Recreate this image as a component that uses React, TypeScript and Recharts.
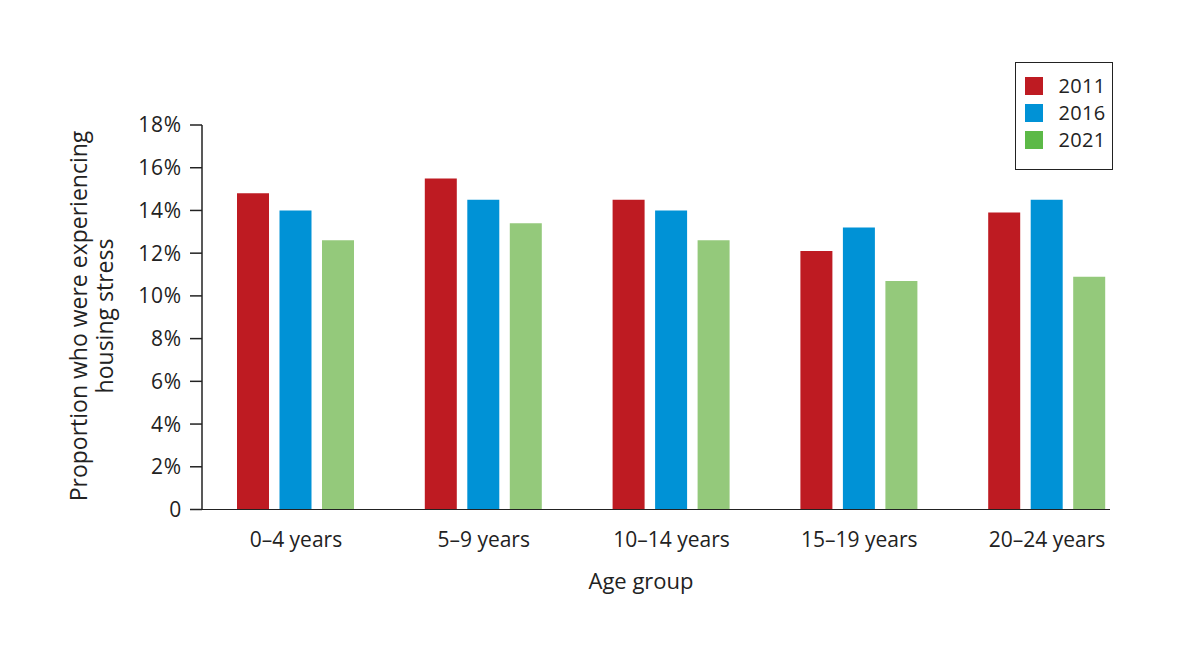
import { BarChart, Bar, XAxis, YAxis } from 'recharts';

// Housing stress by age group, census years 2011 / 2016 / 2021
const ageGroups = ['0–4 years', '5–9 years', '10–14 years', '15–19 years', '20–24 years'];
const values2011 = [14.8, 15.5, 14.5, 12.1, 13.9];
const values2016 = [14.0, 14.5, 14.0, 13.2, 14.5];
const values2021 = [12.6, 13.4, 12.6, 10.7, 10.9];
const yTicks = [0, 2, 4, 6, 8, 10, 12, 14, 16, 18];
const years = ['2011', '2016', '2021'];

const barColors = ['#be1b22', '#0092d6', '#94c97b'];
const legendColors = ['#be1b22', '#0092d6', '#5cb947'];
const ink = '#222';
const font = '"Open Sans", sans-serif';

const data = ageGroups.map((group, i) => ({
  group,
  y2011: values2011[i],
  y2016: values2016[i],
  y2021: values2021[i],
}));

// legend drawn as plain html so it doesn't eat into the plot area
const LegendBox = () => (
  <div
    style={{
      position: 'absolute',
      top: 62,
      left: 1015,
      width: 98,
      height: 108,
      boxSizing: 'border-box',
      border: `1.5px solid ${ink}`,
      padding: '9.5px 0 0 8.5px',
      background: '#fff',
      fontFamily: font,
    }}
  >
    {years.map((y, i) => (
      <div key={y} style={{ display: 'flex', alignItems: 'center', height: 27 }}>
        <span style={{ width: 18, height: 18, background: legendColors[i], marginRight: 16 }} />
        <span style={{ fontSize: 20, color: ink, lineHeight: '20px', letterSpacing: 0.3 }}>{y}</span>
      </div>
    ))}
  </div>
);

const YTitle = () => (
  <text
    transform="translate(93, 316) rotate(-90)"
    textAnchor="middle"
    fontFamily={font}
    fontSize={23}
    fill={ink}
  >
    <tspan x={0} dy={-6}>Proportion who were experiencing</tspan>
    <tspan x={0} dy={26}>housing stress</tspan>
  </text>
);

const XTitle = () => (
  <text x={641} y={589} textAnchor="middle" fontFamily={font} fontSize={22} fill={ink}>
    Age group
  </text>
);

export default function App() {
  return (
    <div
      style={{
        position: 'absolute',
        top: 0,
        left: 0,
        width: 1200,
        height: 653,
        background: '#fff',
        fontFamily: font,
      }}
    >
      <BarChart
        width={1200}
        height={653}
        data={data}
        margin={{ top: 125, right: 59, left: 102, bottom: 83.5 }}
        barSize={32}
        barGap={10.5}
      >
        <XAxis
          dataKey="group"
          axisLine={false}
          tickLine={false}
          tickSize={0}
          tickMargin={23}
          height={60}
          tick={{ fontSize: 21, fill: ink, fontFamily: font }}
          label={{ content: () => <XTitle /> }}
        />
        <YAxis
          width={100}
          domain={[0, 18]}
          ticks={yTicks}
          interval={0}
          tickSize={12}
          tickMargin={8}
          axisLine={{ stroke: ink, strokeWidth: 1.5 }}
          tickLine={{ stroke: ink, strokeWidth: 1.5 }}
          tick={{ fontSize: 21, fill: ink, fontFamily: font, letterSpacing: 0.8 }}
          tickFormatter={(v: number) => (v === 0 ? '0' : `${v}%`)}
          label={{ content: () => <YTitle /> }}
        />
        <Bar dataKey="y2011" name="2011" fill={barColors[0]} isAnimationActive={false} />
        <Bar dataKey="y2016" name="2016" fill={barColors[1]} isAnimationActive={false} />
        <Bar dataKey="y2021" name="2021" fill={barColors[2]} isAnimationActive={false} />
      </BarChart>
      <LegendBox />
      {/* baseline stops short of the last band, as in the original */}
      <div
        style={{
          position: 'absolute',
          left: 201.25,
          top: 508.75,
          width: 909,
          height: 1.5,
          background: ink,
        }}
      />
    </div>
  );
}
